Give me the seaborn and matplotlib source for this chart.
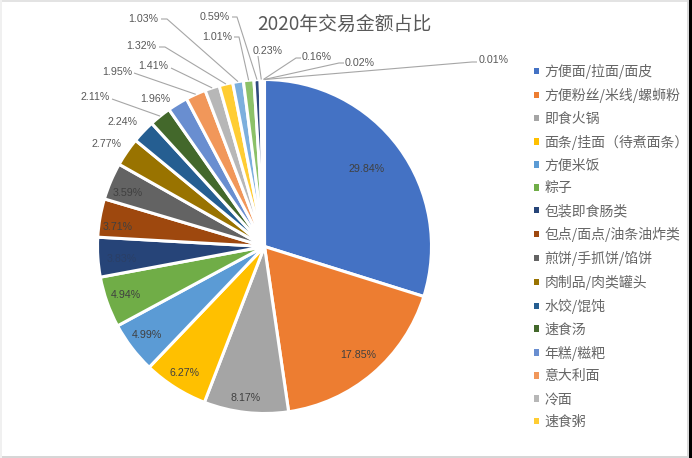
import numpy as np
import matplotlib
matplotlib.use("Agg")
import matplotlib.pyplot as plt
import seaborn as sns
from matplotlib.patches import Rectangle

# ---------------- data ----------------
title = "2020年交易金额占比"
legend_labels = [
    "方便面/拉面/面皮", "方便粉丝/米线/螺蛳粉", "即食火锅", "面条/挂面（待煮面条）",
    "方便米饭", "粽子", "包装即食肠类", "包点/面点/油条油炸类", "煎饼/手抓饼/馅饼",
    "肉制品/肉类罐头", "水饺/馄饨", "速食汤", "年糕/糍粑", "意大利面", "冷面", "速食粥",
]
values = [29.84, 17.85, 8.17, 6.27, 4.99, 4.94, 3.83, 3.71, 3.59, 2.77, 2.24, 2.11,
          1.96, 1.95, 1.41, 1.32, 1.03, 1.01, 0.59, 0.23, 0.16, 0.02, 0.01]
pct_labels = [f"{v:.2f}%" for v in values]

# ---------------- style ----------------
colors = ["#4472C4", "#ED7D31", "#A5A5A5", "#FFC000", "#5B9BD5", "#70AD47",
          "#264478", "#9E480E", "#636363", "#997300", "#255E91", "#43682B",
          "#698ED0", "#F1975A", "#B7B7B7", "#FFCD33", "#7CAFDD", "#8CC168",
          "#2E4A7D", "#C55A11", "#848484", "#CC9A00", "#3C7DC4"]

W, H = 692, 458
CX, CY, R = 264.5, 246.5, 167  # pie centre / radius in pixels (y from top)

# label layout: (text centre x, y from top, leader start x, leader start y, elbow dx, text colour)
label_layout = [
    (367, 169, None, None, 0, "#404040"),
    (358, 355, None, None, 0, "#404040"),
    (246, 398, None, None, 0, "#404040"),
    (184, 373, None, None, 0, "#404040"),
    (147, 335, None, None, 0, "#404040"),
    (126, 295, None, None, 0, "#404040"),
    (122, 259, None, None, 0, "#2A3F66"),
    (118, 227, None, None, 0, "#404040"),
    (128, 193, None, None, 0, "#404040"),
    (107, 144, None, None, 0, "#595959"),
    (123, 122, None, None, 0, "#595959"),
    (95, 97, 112, 99, 0, "#595959"),
    (155, 99, None, None, 0, "#595959"),
    (117, 72, 134, 73, 0, "#595959"),
    (153, 66, 171, 68, 0, "#595959"),
    (141, 46, 159, 47, 6, "#595959"),
    (143, 19, 161, 19, 6, "#595959"),
    (217, 37, 234, 37, 5, "#595959"),
    (215, 17, 232, 17, 5, "#595959"),
    (268, 51, 258, 56, 0, "#595959"),
    (317, 57, 301, 58, -5, "#595959"),
    (360, 63, 344, 63, -5, "#595959"),
    (494, 60, 477, 62, -5, "#595959"),
]

sns.set_theme(style="white")
plt.rcParams["font.family"] = ["Noto Sans CJK SC", "DejaVu Sans"]

fig = plt.figure(figsize=(W / 100, H / 100), dpi=100)
fig.patch.set_facecolor("white")
ax = fig.add_axes([0, 0, 1, 1])


def Y(y):
    return H - y


wedges, _ = ax.pie(values, colors=colors, startangle=90, counterclock=False,
                   center=(CX, Y(CY)), radius=R,
                   wedgeprops=dict(edgecolor="white", linewidth=2.2))
ax.set_xlim(0, W)
ax.set_ylim(0, H)
ax.set_aspect("equal")
ax.axis("off")

# percentage labels
for w, lab, (tx, ty, lx, ly, dx, col) in zip(wedges, pct_labels, label_layout):
    ax.text(tx, Y(ty), lab, ha="center", va="center", fontsize=7.7,
            color=col, family=["Liberation Sans", "DejaVu Sans"])
    if lx is not None:
        theta = np.deg2rad((w.theta1 + w.theta2) / 2)
        ex = CX + R * np.cos(theta)
        ey = Y(CY) + R * np.sin(theta)
        xs = [lx, lx + dx, ex]
        ys = [Y(ly), Y(ly), ey]
        ax.plot(xs, ys, color="#A6A6A6", lw=0.8, solid_capstyle="butt")

# title
ax.text(344, Y(24), title, ha="center", va="center", fontsize=13.6, color="#595959")

# legend
leg = ax.legend(wedges[:len(legend_labels)], legend_labels, loc="upper left",
                bbox_to_anchor=(534 / W, 1 - 64 / H), bbox_transform=fig.transFigure,
                frameon=False, fontsize=10, handlelength=0.35, handleheight=0.35,
                handletextpad=0.4, labelspacing=0.635, borderpad=0, borderaxespad=0)
for t in leg.get_texts():
    t.set_color("#666666")
for h in leg.legend_handles:
    h.set_linewidth(0)

# screenshot frame
fig.patches.append(Rectangle((0, 1 - 2 / H), 1, 2 / H, transform=fig.transFigure,
                             facecolor="#E3E3E3", edgecolor="none"))
fig.patches.append(Rectangle((0, 0), 1, 2 / H, transform=fig.transFigure,
                             facecolor="#D6D6D6", edgecolor="none"))
fig.patches.append(Rectangle((0, 0), 2 / W, 1, transform=fig.transFigure,
                             facecolor="#F0F0F0", edgecolor="none"))
fig.patches.append(Rectangle((687 / W, 0), 2 / W, 1, transform=fig.transFigure,
                             facecolor="#D9D9D9", edgecolor="none"))
fig.patches.append(Rectangle((689 / W, 0), 3 / W, 1, transform=fig.transFigure,
                             facecolor="#000000", edgecolor="none"))

fig.savefig("out.png", dpi=100, facecolor="white")
